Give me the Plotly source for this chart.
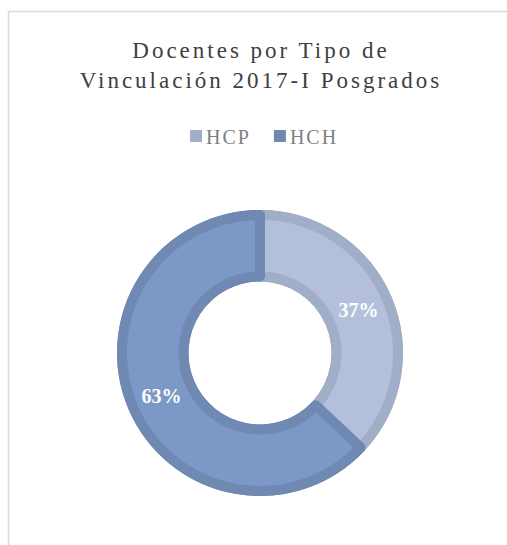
import plotly.graph_objects as go

# ---- data ----
categories = ["HCP", "HCH"]
percentages = [37, 63]
fill_colors = ["#b4c0db", "#7c98c6"]
border_colors = ["#a0aec8", "#6f89b2"]
title_lines = ["Docentes por Tipo de", "Vinculación 2017-I Posgrados"]

W, H = 507, 545
cx, cy = 260, 353          # donut centre in pixels (from top-left)
r_outer, r_inner = 143, 71.5
stroke = 10


def dom(r):
    return dict(x=[(cx - r) / W, (cx + r) / W],
                y=[(H - cy - r) / H, (H - cy + r) / H])


fig = go.Figure()

# border ring (also supplies the legend swatches)
fig.add_trace(go.Pie(
    labels=categories, values=percentages, sort=False, direction="clockwise",
    rotation=0, hole=r_inner / r_outer, domain=dom(r_outer),
    marker=dict(colors=border_colors, line=dict(width=0)),
    textinfo="none", hoverinfo="label+percent", showlegend=True,
))

# fill ring with border strokes
r_path_outer = r_outer - stroke / 2
r_path_inner = r_inner + stroke / 2
fig.add_trace(go.Pie(
    labels=categories, values=percentages, sort=False, direction="clockwise",
    rotation=0, hole=r_path_inner / r_path_outer, domain=dom(r_path_outer),
    marker=dict(colors=fill_colors, line=dict(color=border_colors, width=stroke)),
    textinfo="percent", textposition="inside", insidetextorientation="horizontal",
    insidetextfont=dict(family="Liberation Serif", size=20, color="white", weight="bold"),
    hoverinfo="label+percent", showlegend=False,
))

frame = dict(color="#d9d9d9", width=1.5)
fig.update_layout(
    width=W, height=H,
    margin=dict(l=0, r=0, t=0, b=0),
    paper_bgcolor="white", plot_bgcolor="white",
    title=dict(text="<br>".join(title_lines), x=261 / W, xanchor="center",
               y=1 - 58 / H, yanchor="top", yref="container",
               font=dict(family="Liberation Serif", size=23, color="#404040")),
    legend=dict(orientation="h", x=262 / W, xanchor="center", y=1 - 136 / H,
                yanchor="middle", font=dict(family="Liberation Serif", size=20, color="#808080"),
                itemclick=False, itemdoubleclick=False),
    shapes=[
        dict(type="line", xref="paper", yref="paper",
             x0=8.5 / W, x1=1.0, y0=1 - 11.5 / H, y1=1 - 11.5 / H, line=frame, layer="below"),
        dict(type="line", xref="paper", yref="paper",
             x0=8.5 / W, x1=8.5 / W, y0=0, y1=1 - 11.5 / H, line=frame, layer="below"),
    ],
)

post = ("document.body.style.margin='0';"
        "document.body.style.overflow='hidden';"
        "document.documentElement.style.overflow='hidden';"
        "document.querySelectorAll('.gtitle').forEach(function(e){e.style.letterSpacing='3px';});"
        "document.querySelectorAll('.legendtext').forEach(function(e){"
        "e.style.letterSpacing='2px'; e.setAttribute('x', '30');});")
fig.write_html("out.html", post_script=post, config={"displayModeBar": False})
